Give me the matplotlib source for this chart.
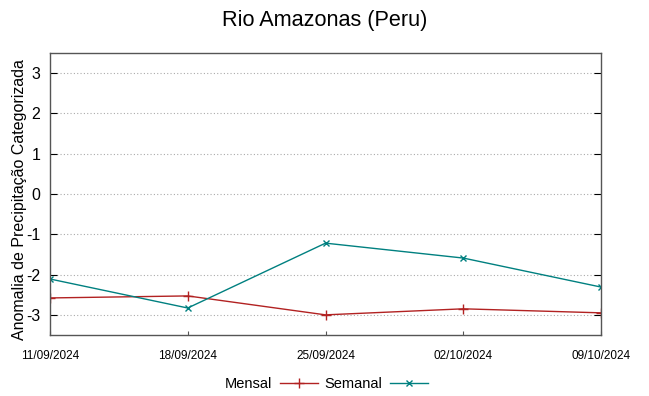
import matplotlib
matplotlib.use("Agg")
import matplotlib.pyplot as plt
import numpy as np

plt.rcParams['font.family'] = ['Liberation Sans', 'DejaVu Sans']

dates = ["11/09/2024", "18/09/2024", "25/09/2024", "02/10/2024", "09/10/2024"]
mensal = [-2.58, -2.53, -3.0, -2.85, -2.95]
semanal = [-2.11, -2.83, -1.22, -1.59, -2.31]
yticks = [-3, -2, -1, 0, 1, 2, 3]

W, H = 649, 396
fig = plt.figure(figsize=(W/100, H/100), dpi=100)
ax = fig.add_axes([50/W, (H-335)/H, (601-50)/W, (335-53)/H])

x = np.arange(len(dates)) * 7
ax.plot(x, mensal, color='#b22222', marker='+', markersize=7, linewidth=1.0, label='Mensal')
ax.plot(x, semanal, color='#008080', marker='x', markersize=5, linewidth=1.0, label='Semanal')

ax.set_xlim(x[0], x[-1])
ax.set_ylim(-3.5, 3.5)
ax.set_xticks(x)
ax.set_xticklabels(dates, fontsize=8.5)
ax.set_yticks(yticks)
ax.set_yticklabels([str(v) for v in yticks], fontsize=11.5)
ax.yaxis.grid(True, linestyle=(0, (1, 2)), color='#aaaaaa', linewidth=0.8)
ax.tick_params(axis='y', direction='in', length=5, right=True, color='black', pad=7)
ax.tick_params(axis='x', direction='in', length=3, pad=11, color='#555555')
for s in ax.spines.values():
    s.set_color('#555555')
    s.set_linewidth(1.0)

ax.set_ylabel('Anomalia de Precipitação Categorizada', fontsize=11.5, labelpad=0)
ax.yaxis.set_label_coords(-23/551, 0.48)
fig.suptitle('Rio Amazonas (Peru)', fontsize=15.6, y=0.975)

fig.legend(loc='lower center', bbox_to_anchor=(0.503, -0.02), ncol=2, frameon=False,
           fontsize=10.5, markerfirst=False, handlelength=2.6, columnspacing=0.5, handletextpad=0.5)

fig.savefig('out.png', dpi=100)
